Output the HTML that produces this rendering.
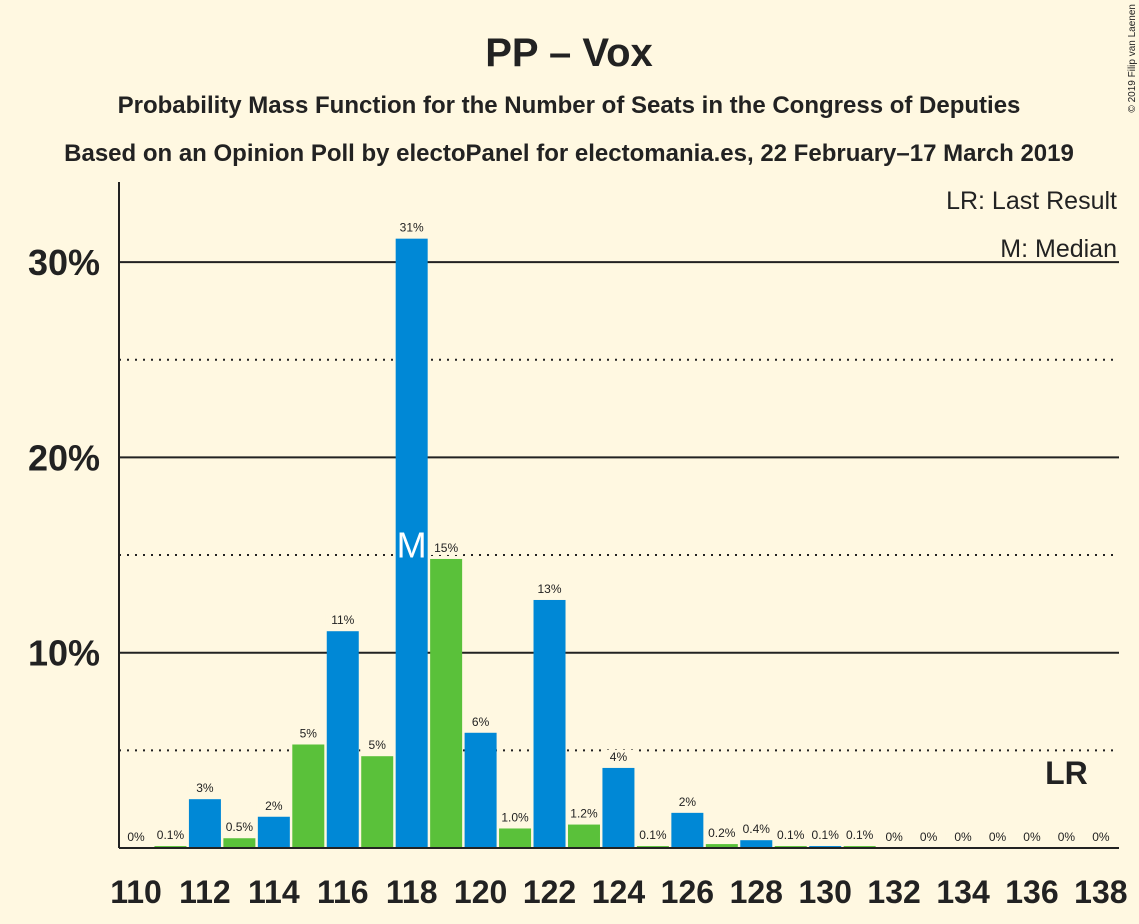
<!DOCTYPE html>
<html><head><meta charset="utf-8"><style>
body{margin:0;background:#fff8e1;}
svg{display:block;font-family:"Liberation Sans",sans-serif;}
</style></head><body>
<svg id="chart" width="1139" height="924" viewBox="0 0 1139 924">
<rect width="1139" height="924" fill="#fff8e1"/>
<text x="569" y="66" text-anchor="middle" font-size="40" font-weight="bold" fill="#222">PP – Vox</text>
<text x="569" y="113" text-anchor="middle" font-size="24" font-weight="bold" fill="#222">Probability Mass Function for the Number of Seats in the Congress of Deputies</text>
<text x="569" y="161" text-anchor="middle" font-size="24" font-weight="bold" fill="#222">Based on an Opinion Poll by electoPanel for electomania.es, 22 February–17 March 2019</text>
<text x="1135" y="4" transform="rotate(-90 1135 4)" text-anchor="end" font-size="10" fill="#222">© 2019 Filip van Laenen</text>
<g id="grid"></g>
<g id="bars"></g>
<line x1="119" y1="182" x2="119" y2="848" stroke="#222" stroke-width="2"/>
<line x1="119" y1="848" x2="1119" y2="848" stroke="#222" stroke-width="2"/>
<text x="1117" y="209" text-anchor="end" font-size="25" fill="#222">LR: Last Result</text>
<text x="1117" y="257" text-anchor="end" font-size="25" fill="#222">M: Median</text>
</svg>
<script>
const seats=[110,111,112,113,114,115,116,117,118,119,120,121,122,123,124,125,126,127,128,129,130,131,132,133,134,135,136,137,138];
const probs=[0,0.1,2.5,0.5,1.6,5.3,11.1,4.7,31.2,14.8,5.9,1.0,12.7,1.2,4.1,0.1,1.8,0.2,0.4,0.1,0.1,0.1,0,0,0,0,0,0,0];
const labels=["0%","0.1%","3%","0.5%","2%","5%","11%","5%","31%","15%","6%","1.0%","13%","1.2%","4%","0.1%","2%","0.2%","0.4%","0.1%","0.1%","0.1%","0%","0%","0%","0%","0%","0%","0%"];
const yTicks=[10,20,30];
const yMinor=[5,15,25];
const xTicks=[110,112,114,116,118,120,122,124,126,128,130,132,134,136,138];
const median=118, lastResult=137;
const NS="http://www.w3.org/2000/svg";
const y=v=>848-v*19.53;
const x=s=>136+(s-110)*34.46;
const grid=document.getElementById('grid'), bars=document.getElementById('bars');
function mk(tag,attrs,parent){const e=document.createElementNS(NS,tag);for(const k in attrs)e.setAttribute(k,attrs[k]);parent.appendChild(e);return e;}
yMinor.forEach(v=>{const l=mk('line',{x1:119,x2:1119,y1:y(v),y2:y(v),stroke:'#222','stroke-width':2,'stroke-dasharray':'2,6'},grid);

});
yTicks.forEach(v=>{const l=mk('line',{x1:119,x2:1119,y1:y(v),y2:y(v),stroke:'#222','stroke-width':2},grid);


const t=mk('text',{x:100,y:y(v)+13,'text-anchor':'end','font-size':36,'font-weight':'bold',fill:'#222'},grid);t.textContent=v+'%';

});
xTicks.forEach(s=>{const t=mk('text',{x:x(s),y:903,'text-anchor':'middle','font-size':32,'font-weight':'bold',fill:'#222'},grid);t.textContent=s;

});
seats.forEach((s,i)=>{const v=probs[i];
if(v>0){const r=mk('rect',{x:x(s)-16,y:y(v),width:32,height:848-y(v),fill:s%2===0?'#0088d6':'#5ac13a'},bars);

}
const ty=y(v)-7;
const bg=mk('rect',{x:x(s)-17,y:ty-11,width:34,height:14,fill:'#fff8e1'},bars);


const t=mk('text',{x:x(s),y:ty,'text-anchor':'middle','font-size':12,fill:'#222'},bars);t.textContent=labels[i];

});
const mi=seats.indexOf(median);
const m=mk('text',{x:x(median),y:y(probs[mi]/2)+14,'text-anchor':'middle','font-size':36,fill:'#fff'},bars);m.textContent='M';


const lr=mk('text',{x:x(lastResult),y:784,'text-anchor':'middle','font-size':32,'font-weight':'bold',fill:'#222'},bars);lr.textContent='LR';


</script>
</body></html>
